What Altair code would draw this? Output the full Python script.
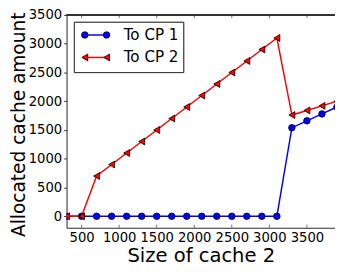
import altair as alt
import pandas as pd

# ---- data ----
cache2_size = [300, 500, 700, 900, 1100, 1300, 1500, 1700, 1900, 2100, 2300,
               2500, 2700, 2900, 3100, 3300, 3500, 3700, 3900]
to_cp1 = [0, 0, 0, 0, 0, 0, 0, 0, 0, 0, 0, 0, 0, 0, 0, 1540, 1660, 1780, 1900]
to_cp2 = [0, 0, 700, 900, 1100, 1300, 1500, 1700, 1900, 2100, 2300,
          2500, 2700, 2900, 3100, 1760, 1840, 1920, 2000]
series_names = ["To CP 1", "To CP 2"]
x_ticks = [500, 1000, 1500, 2000, 2500, 3000, 3500]
y_ticks = [0, 500, 1000, 1500, 2000, 2500, 3000, 3500]
x_domain = [300, 3874]
y_domain = [-200, 3500]

W, H = 275, 218
FONT = "DejaVu Sans"
AX = "#333333"

df = pd.DataFrame({"size": cache2_size, "cp1": to_cp1, "cp2": to_cp2})
ticks_df = pd.DataFrame({"v": x_ticks})

xs = alt.Scale(domain=x_domain, nice=False, zero=False)
ys = alt.Scale(domain=y_domain, nice=False, zero=False)

x_axis = alt.Axis(values=x_ticks, format="d", ticks=False, grid=False,
                  domainColor=AX, labelFont=FONT, labelFontSize=13.5,
                  labelColor="black", labelPadding=3, labelFlush=False,
                  labelOverlap=False, title="Size of cache 2", titleFont=FONT,
                  titleFontSize=20, titleFontWeight="normal",
                  titleColor="black", titlePadding=2)
y_axis = alt.Axis(values=y_ticks, format="d", ticks=True, tickSize=3,
                  tickColor=AX, grid=False, domainColor=AX, labelFont=FONT,
                  labelFontSize=13.5, labelColor="black", labelPadding=2,
                  labelFlush=False, labelOverlap=False,
                  title="Allocated cache amount", titleFont=FONT,
                  titleFontSize=19, titleFontWeight="normal",
                  titleColor="black", titlePadding=0, titleY=112)


def X(field):
    return alt.X(field, scale=xs, axis=x_axis)


def Y(field):
    return alt.Y(field, scale=ys, axis=y_axis)


base = alt.Chart(df)

line1 = base.mark_line(color="#0000ff", strokeWidth=1.5, clip=True).encode(
    x=X("size:Q"), y=Y("cp1:Q"))
line2 = base.mark_line(color="#ff0000", strokeWidth=1.5, clip=True).encode(
    x=X("size:Q"), y=Y("cp2:Q"))
pts1 = base.mark_point(shape="circle", filled=True, fill="#0000ff",
                       stroke="black", strokeWidth=0.8, size=45, opacity=1,
                       clip=True).encode(x=X("size:Q"), y=Y("cp1:Q"))
pts2 = base.mark_point(shape="triangle-left", filled=True, fill="#ff0000",
                       stroke="black", strokeWidth=0.8, size=50, opacity=1,
                       clip=True).encode(x=X("size:Q"), y=Y("cp2:Q"))

# top spine and inward ticks on top/bottom
top_spine = alt.Chart(ticks_df).mark_rule(color=AX, strokeWidth=1).encode(
    x=alt.value(0), x2=alt.value(W), y=alt.value(0))
tick_top = alt.Chart(ticks_df).mark_tick(orient="vertical", size=3,
                                         thickness=1, color=AX).encode(
    x=X("v:Q"), y=alt.value(1.5))
tick_bot = alt.Chart(ticks_df).mark_tick(orient="vertical", size=3,
                                         thickness=1, color=AX).encode(
    x=X("v:Q"), y=alt.value(H - 1.5))

# legend
leg_df = pd.DataFrame({"name": series_names})
leg_box = alt.Chart(leg_df).mark_rect(fill="white", stroke=AX,
                                      strokeWidth=1).encode(
    x=alt.value(8), x2=alt.value(120), y=alt.value(7.5), y2=alt.value(59))
leg_layers = [leg_box]
rows = [(20.5, "#0000ff", "circle", 45, series_names[0]),
        (43.5, "#ff0000", "triangle-left", 50, series_names[1])]
for yy, col, shp, sz, name in rows:
    one = leg_df[leg_df["name"] == name]
    leg_layers.append(alt.Chart(one).mark_rule(color=col, strokeWidth=1.5).encode(
        x=alt.value(18.7), x2=alt.value(41), y=alt.value(yy)))
    for xx in (18.7, 41):
        leg_layers.append(alt.Chart(one).mark_point(
            shape=shp, filled=True, fill=col, stroke="black", strokeWidth=0.8,
            size=sz, opacity=1).encode(x=alt.value(xx), y=alt.value(yy)))
    leg_layers.append(alt.Chart(one).mark_text(
        align="left", baseline="middle", font=FONT, fontSize=15.5,
        color="black").encode(x=alt.value(58.5), y=alt.value(yy), text="name:N"))

chart = alt.layer(line1, line2, pts1, pts2, top_spine, tick_top, tick_bot,
                  *leg_layers).properties(
    width=W, height=H,
    autosize=alt.AutoSizeParams(type="none"),
    padding={"left": 60, "top": 4, "right": 0, "bottom": 36},
).configure_view(stroke=None).configure(background="white")

chart.save("out.html", embed_options={"renderer": "svg", "actions": False})
